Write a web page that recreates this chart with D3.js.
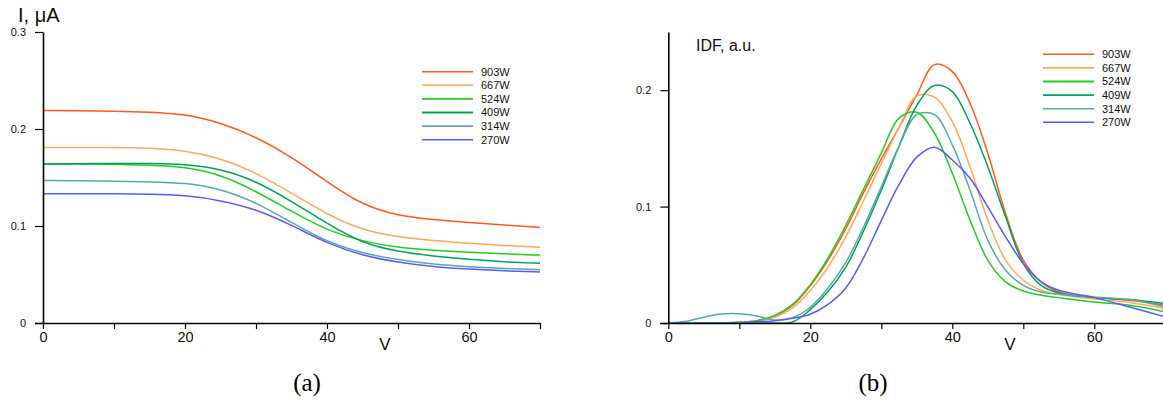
<!DOCTYPE html>
<html><head><meta charset="utf-8">
<script src="https://cdn.jsdelivr.net/npm/d3@7"></script>
<style>
body{margin:0;background:#fff;}
svg{display:block;font-family:"Liberation Sans",Arial,sans-serif;}
</style></head>
<body><svg id="c" width="1163" height="402"></svg>
<script>
// ---- data ----
const seriesNames = ["903W","667W","524W","409W","314W","270W"];
const seriesColors = ["#ff5a1c","#ffa860","#22cc22","#00a05a","#5aa8a8","#5a5aff"];

// panel (a): current I (µA) vs V
const voltsA = [0,5,10,15,20,25,30,35,40,45,50,55,60,65,70];
const curA903 = [0.219,0.219,0.2185,0.2175,0.2155,0.2065,0.192,0.1715,0.1455,0.1215,0.1105,0.1065,0.1035,0.101,0.0985];
const curA667 = [0.181,0.181,0.181,0.1805,0.178,0.170,0.155,0.134,0.112,0.0955,0.0885,0.085,0.082,0.080,0.078];
const curA524 = [0.164,0.164,0.1637,0.1626,0.161,0.153,0.136,0.115,0.0955,0.084,0.078,0.0748,0.0728,0.0713,0.070];
const curA409 = [0.164,0.1642,0.1645,0.1645,0.1638,0.159,0.1465,0.1255,0.1025,0.082,0.0735,0.069,0.0655,0.063,0.0615];
const curA314 = [0.147,0.1468,0.1462,0.1455,0.1446,0.1385,0.1245,0.1035,0.0835,0.0718,0.065,0.0605,0.058,0.0562,0.0548];
const curA270 = [0.1333,0.1333,0.1332,0.133,0.1318,0.1265,0.1175,0.101,0.082,0.0695,0.0625,0.058,0.0555,0.0538,0.0525];

// panel (b): IDF (a.u.) vs V
const voltsB = [0,2.5,5,7.5,10,12.5,15,17.5,20,22.5,25,27.5,30,32.5,35,37.5,40,42.5,45,47.5,50,52.5,55,60,65,70];
const idf903 = [0,0,0,0.0002,0.0006,0.002,0.006,0.015,0.032,0.054,0.081,0.112,0.141,0.168,0.196,0.222,0.216,0.1888,0.1458,0.0941,0.054,0.0353,0.0267,0.0218,0.0195,0.0152];
const idf667 = [0,0,0,0.0001,0.0005,0.0015,0.005,0.013,0.028,0.048,0.074,0.105,0.137,0.168,0.195,0.194,0.173,0.1343,0.0884,0.054,0.0367,0.0281,0.0244,0.0207,0.0176,0.0124];
const idf524 = [0,0,0,0.0002,0.0006,0.002,0.0065,0.016,0.033,0.056,0.084,0.115,0.146,0.176,0.181,0.163,0.1286,0.0884,0.054,0.0353,0.0275,0.0238,0.0218,0.0181,0.0152,0.0095];
const idf409 = [0,0,0,0,0,0,0,0.0008,0.0115,0.027,0.048,0.079,0.114,0.152,0.187,0.204,0.1988,0.1716,0.1343,0.0912,0.0511,0.0324,0.0258,0.0218,0.0201,0.0167];
const idf314 = [0,0.0015,0.005,0.0077,0.0079,0.006,0.0025,0.0045,0.0135,0.030,0.052,0.0825,0.117,0.152,0.179,0.179,0.153,0.1142,0.0712,0.0454,0.0324,0.0267,0.0247,0.0224,0.0201,0.0138];
const idf270 = [0,0,0,0,0.0003,0.001,0.002,0.004,0.0075,0.016,0.030,0.056,0.088,0.119,0.1425,0.151,0.140,0.1243,0.0998,0.074,0.0511,0.0353,0.0281,0.0218,0.0138,0.0052];

const xTicks = [0,10,20,30,40,50,60,70];
const xTickLabels = [0,20,40,60];
const yTicksA = [0,0.1,0.2,0.3];
const yTicksB = [0,0.1,0.2];

// ---- drawing ----
const svg = d3.select("#c");
svg.append("rect").attr("width",1163).attr("height",402).attr("fill","#fff");

function panel(cfg){
  const g = svg.append("g");
  const x = d3.scaleLinear().domain([0,70]).range(cfg.xr);
  const y = d3.scaleLinear().domain(cfg.yd).range([323,32]);

  const line = d3.line().x(d=>x(d[0])).y(d=>y(d[1])).curve(cfg.curve);
  const clipId = "clip"+cfg.id;
  svg.append("clipPath").attr("id",clipId).append("rect")
     .attr("x",cfg.xr[0]).attr("y",0).attr("width",cfg.xr[1]-cfg.xr[0]).attr("height",323.2);
  const lg = g.append("g").attr("clip-path",`url(#${clipId})`);
  cfg.series.forEach((s,i)=>{
    lg.append("path").datum(cfg.volts.map((v,j)=>[v,s[j]]))
      .attr("d",line).attr("fill","none").attr("stroke",seriesColors[i]).attr("stroke-width",1.5);
  });

  // x axis
  const xa = g.append("g").attr("transform","translate(0,323)")
    .call(d3.axisBottom(x).tickValues(xTicks).tickSize(6).tickSizeOuter(0).tickPadding(3)
      .tickFormat(d => xTickLabels.includes(d) ? String(d) : ""));
  xa.select(".domain").attr("d",`M${cfg.xr[0]-8},0.5H${Math.min(cfg.xr[1],1163)}`).attr("stroke","#000").attr("stroke-width",1.6);
  xa.selectAll(".tick line").attr("stroke","#000").attr("stroke-width",1.2);
  xa.selectAll(".tick text").attr("font-size",14.5).attr("fill","#111")
    .attr("font-family","'Liberation Sans',Arial,sans-serif");

  // y axis
  const ya = g.append("g").attr("transform",`translate(${cfg.xr[0]},0)`)
    .call(d3.axisLeft(y).tickValues(cfg.yt).tickSize(8).tickSizeOuter(0).tickPadding(9)
      .tickFormat(d => d===0 ? "0" : d.toFixed(1)));
  ya.select(".domain").attr("stroke","#000").attr("stroke-width",1.6);
  ya.selectAll(".tick line").attr("stroke","#000").attr("stroke-width",1.2);
  ya.selectAll(".tick text").attr("font-size",11).attr("fill","#111")
    .attr("font-family","'Liberation Sans',Arial,sans-serif");

  // legend
  const leg = g.append("g");
  seriesNames.forEach((n,i)=>{
    const yy = cfg.legY + i*13.6;
    leg.append("line").attr("x1",cfg.legX).attr("x2",cfg.legX+51).attr("y1",yy).attr("y2",yy)
      .attr("stroke",seriesColors[i]).attr("stroke-width",cfg.thick===i?2.2:1.6);
    leg.append("text").attr("x",cfg.legX+59).attr("y",yy).attr("dy","0.36em")
      .attr("font-size",11).attr("fill","#111").text(n);
  });

  // V label
  g.append("text").attr("x",cfg.vx).attr("y",350).attr("text-anchor","middle")
    .attr("font-size",17).attr("fill","#111").text("V");
  // panel letter
  g.append("text").attr("x",cfg.px).attr("y",391).attr("text-anchor","middle")
    .attr("font-family","'Liberation Serif','Times New Roman',serif")
    .attr("font-size",25).attr("fill","#000").text(cfg.letter);
}

panel({id:"a", xr:[43,540], yd:[0,0.3], yt:yTicksA, volts:voltsA, curve:d3.curveBasis,
  series:[curA903,curA667,curA524,curA409,curA314,curA270],
  legX:422, legY:71.7, vx:385, px:307, letter:"(a)", thick:3});
panel({id:"b", xr:[668.3,1165.3], yd:[0,0.25], yt:yTicksB, volts:voltsB, curve:d3.curveCatmullRom.alpha(0.5),
  series:[idf903,idf667,idf524,idf409,idf314,idf270],
  legX:1043, legY:54.3, vx:1010, px:873, letter:"(b)", thick:2});

svg.append("text").attr("x",18).attr("y",22).attr("font-size",20).attr("fill","#111").text("I, μA");
svg.append("text").attr("x",696).attr("y",51).attr("font-size",16).attr("fill","#111").text("IDF, a.u.");
</script></body></html>
